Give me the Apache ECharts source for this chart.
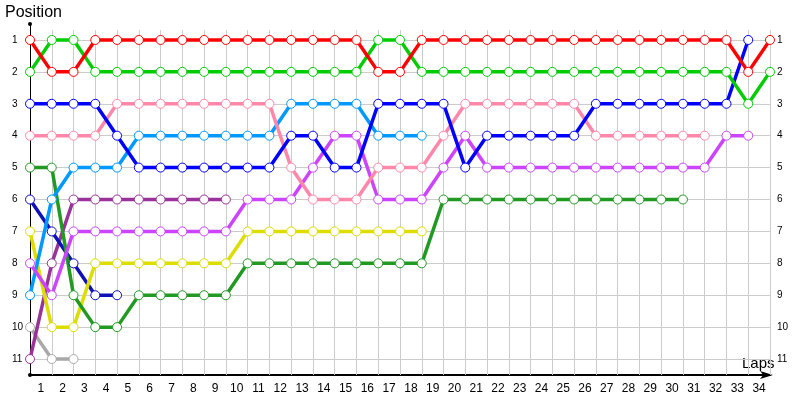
<!DOCTYPE html>
<html><head><meta charset="utf-8">
<script src="https://cdn.jsdelivr.net/npm/echarts@6/dist/echarts.min.js"></script>
<style>html,body{margin:0;padding:0;background:#fff}#c{width:800px;height:400px}</style>
</head><body><div id="c"></div>
<script>
// Lap labels (x axis) and position labels (y axis)
const lapLabels = ['1','2','3','4','5','6','7','8','9','10','11','12','13','14','15','16','17','18','19','20','21','22','23','24','25','26','27','28','29','30','31','32','33','34'];
const posLabels = ['1','2','3','4','5','6','7','8','9','10','11'];
const gridLaps = [1,2,3,4,5,6,7,8,9,10,11,12,13,14,15,16,17,18,19,20,21,22,23,24,25,26,27,28,29,30,31,32,33,34];
const gridPositions = [1,2,3,4,5,6,7,8,9,10,11];

// Position of each driver at lap 0,1,2,...
const red       = [1,2,2,1,1,1,1,1,1,1,1,1,1,1,1,1,2,2,1,1,1,1,1,1,1,1,1,1,1,1,1,1,1,2,1];
const green     = [2,1,1,2,2,2,2,2,2,2,2,2,2,2,2,2,1,1,2,2,2,2,2,2,2,2,2,2,2,2,2,2,2,3,2];
const blue      = [3,3,3,3,4,5,5,5,5,5,5,5,4,4,5,5,3,3,3,3,5,4,4,4,4,4,3,3,3,3,3,3,3,1];
const pink      = [4,4,4,4,3,3,3,3,3,3,3,3,5,6,6,6,5,5,5,4,3,3,3,3,3,3,4,4,4,4,4,4];
const lightBlue = [9,6,5,5,5,4,4,4,4,4,4,4,3,3,3,3,4,4,4];
const darkGreen = [5,5,9,10,10,9,9,9,9,9,8,8,8,8,8,8,8,8,8,6,6,6,6,6,6,6,6,6,6,6,6];
const navy      = [6,7,8,9,9];
const purple    = [11,8,6,6,6,6,6,6,6,6];
const violet    = [8,9,7,7,7,7,7,7,7,7,6,6,6,5,4,4,6,6,6,5,4,5,5,5,5,5,5,5,5,5,5,5,4,4];
const yellow    = [7,10,10,8,8,8,8,8,8,8,7,7,7,7,7,7,7,7,7];
const gray      = [10,11,11];

const drivers = [
  {v: gray, c: '#a8a8a8'},
  {v: purple, c: '#993399'},
  {v: navy, c: '#1010b8'},
  {v: yellow, c: '#dddd00'},
  {v: darkGreen, c: '#229922'},
  {v: lightBlue, c: '#0099ff'},
  {v: violet, c: '#cc44ff'},
  {v: pink, c: '#ff88aa'},
  {v: blue, c: '#0000ff'},
  {v: green, c: '#00cc00'},
  {v: red, c: '#ff0000'}
];

const FONT = 'Liberation Sans';
const chart = echarts.init(document.getElementById('c'), null, {renderer: 'canvas'});

const series = drivers.map(d => ({
  type: 'line',
  xAxisIndex: 0, yAxisIndex: 0,
  data: d.v.map((p, i) => [i, p]),
  symbol: 'circle', symbolSize: 9, showAllSymbol: true,
  itemStyle: {color: '#ffffff', borderColor: d.c, borderWidth: 1},
  lineStyle: {color: d.c, width: 3.5},
  z: 10,
  silent: true
}));

series.unshift({
  type: 'line', xAxisIndex: 0, yAxisIndex: 0, data: [], z: 1, silent: true,
  markLine: {
    silent: true, z: 1, symbol: ['none', 'none'], animation: false,
    label: {show: false},
    lineStyle: {color: '#cccccc', width: 1, type: 'solid'},
    data: gridPositions.map(p => [{coord: [0, p]}, {coord: [34, p]}])
      .concat(gridLaps.map(l => [{coord: [l, 0.6875]}, {coord: [l, 11.5]}]))
  }
});

chart.setOption({
  animation: false,
  backgroundColor: '#ffffff',
  grid: {left: 30, right: 30, top: 24, bottom: 25, containLabel: false},
  xAxis: [
    {type: 'value', min: 0, max: 34, interval: 1,
     axisLine: {show: true, lineStyle: {color: '#000', width: 2}, symbol: ['none', 'arrow'], symbolSize: [6, 13], symbolOffset: [0, 3]},
     axisTick: {show: false}, axisLabel: {show: false}, splitLine: {show: false}},
    {type: 'category', data: lapLabels, boundaryGap: true, position: 'bottom',
     axisLine: {show: false}, axisTick: {show: false}, splitLine: {show: false},
     axisLabel: {interval: 0, margin: 8, fontSize: 12, color: '#000', fontFamily: FONT}}
  ],
  yAxis: [
    {type: 'value', min: 0.5, max: 11.5, inverse: true,
     axisLine: {show: true, onZero: false, lineStyle: {color: '#000', width: 1}, symbol: ['circle', 'circle'], symbolSize: [4, 4]},
     axisTick: {show: false}, axisLabel: {show: false}, splitLine: {show: false}},
    {type: 'category', data: posLabels, inverse: true, boundaryGap: true, position: 'left',
     axisLine: {show: false}, axisTick: {show: false}, splitLine: {show: false},
     axisLabel: {interval: 0, margin: 18, align: 'left', fontSize: 10, color: '#000', fontFamily: FONT}},
    {type: 'category', data: posLabels, inverse: true, boundaryGap: true, position: 'right',
     axisLine: {show: false}, axisTick: {show: false}, splitLine: {show: false},
     axisLabel: {interval: 0, margin: 7, align: 'left', fontSize: 10, color: '#000', fontFamily: FONT}}
  ],
  graphic: [
    {type: 'text', left: 5, top: 5, style: {text: 'Position', fontSize: 16, fontFamily: FONT, fill: '#000'}},
    {type: 'text', left: 742, top: 356, style: {text: 'Laps', fontSize: 15, fontFamily: FONT, fill: '#000'}}
  ],
  series: series
});
</script>
</body></html>
